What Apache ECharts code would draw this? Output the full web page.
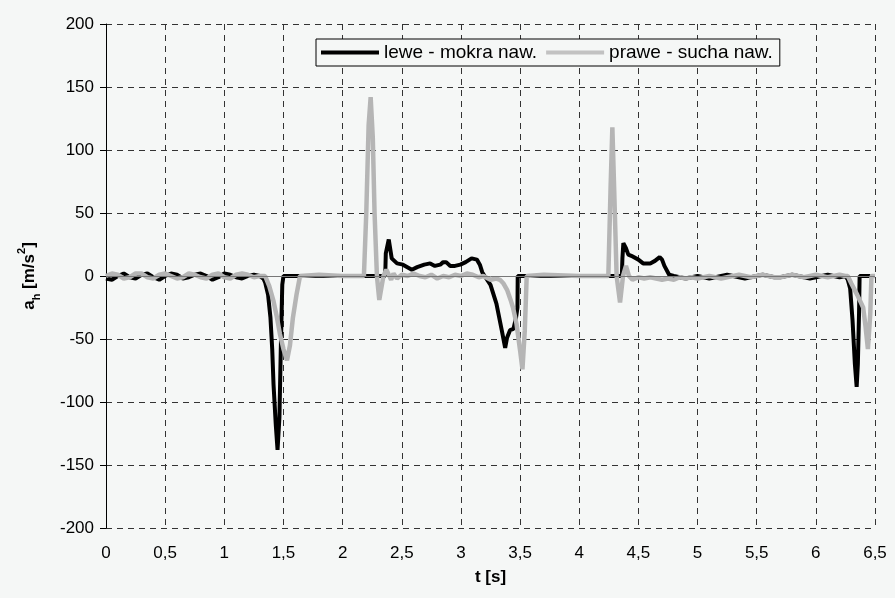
<!DOCTYPE html>
<html>
<head>
<meta charset="utf-8">
<script src="https://cdn.jsdelivr.net/npm/echarts@6/dist/echarts.min.js"></script>
<style>
  html, body { margin: 0; padding: 0; background: #f5f7f6; }
  #chart { width: 895px; height: 598px; }
</style>
</head>
<body>
<div id="chart"></div>
<script>
// [t (s), a_h (m/s2)]
const lewe = [
  [0,-2],[0.05,-3],[0.1,0],[0.15,2],[0.2,-1],[0.25,-2],[0.3,1],[0.35,2],[0.4,-1],[0.45,-3],[0.5,0],[0.55,2],[0.6,1],
  [0.65,-2],[0.7,-1],[0.75,1],[0.8,2],[0.85,0],[0.9,-3],[0.95,-1],[1.0,2],[1.05,1],[1.1,-1],[1.15,-2],[1.2,0],[1.25,1],[1.3,0],
  [1.33,-2],[1.345,-5],[1.37,-15],[1.39,-33],[1.405,-58],[1.416,-86],[1.435,-118],[1.45,-138],[1.466,-112],[1.477,-60],[1.49,-7],
  [1.5,0],[1.64,0],[2.0,0],[2.36,0],
  [2.365,18],[2.39,29],[2.415,14],[2.46,10],[2.51,9],[2.585,5],[2.63,7],[2.69,9],[2.74,10],[2.78,8],[2.825,9],[2.85,11],[2.875,11],
  [2.91,8],[2.95,8],[2.995,9],[3.04,11],[3.09,14],[3.135,13],[3.16,9],[3.18,3],[3.2,0],[3.25,-7],[3.3,-22],[3.345,-43],[3.374,-57],
  [3.39,-49],[3.415,-43],[3.444,-42],[3.466,-33],[3.478,-25],[3.48,0],[3.54,0],[4.0,0],[4.36,0],
  [4.365,14],[4.373,26],[4.395,22],[4.415,17],[4.44,16],[4.5,13],[4.54,10],[4.6,10],[4.64,12],[4.68,15],[4.7,13],[4.72,8],[4.76,1],[4.8,0],
  [4.85,-1],[4.9,-2],[4.95,-1],[5.0,0],[5.05,-1],[5.1,-2],[5.15,-1],[5.2,0],[5.25,1],[5.3,0],[5.35,-1],[5.4,-2],[5.45,-1],[5.5,0],
  [5.55,1],[5.6,0],[5.65,-1],[5.7,-1],[5.75,0],[5.8,1],[5.85,0],[5.9,-1],[5.95,-2],[6.0,-1],[6.05,0],[6.1,1],[6.15,0],[6.2,-1],[6.25,0],
  [6.27,-3],[6.29,-10],[6.31,-35],[6.33,-70],[6.345,-88],[6.355,-70],[6.365,-30],[6.37,0],[6.46,0]
];
const prawe = [
  [0,0],[0.05,2],[0.1,1],[0.15,-2],[0.2,-1],[0.25,2],[0.3,2],[0.35,-1],[0.4,-2],[0.45,1],[0.5,2],[0.55,0],[0.6,-2],
  [0.65,-1],[0.7,2],[0.75,1],[0.8,-1],[0.85,-2],[0.9,1],[0.95,2],[1.0,-1],[1.05,-2],[1.1,1],[1.15,2],[1.2,1],[1.25,-1],[1.3,0],
  [1.345,0],[1.38,-8],[1.416,-20],[1.445,-33],[1.47,-46],[1.5,-58],[1.53,-67],[1.555,-55],[1.58,-33],[1.61,-15],[1.64,0],[1.8,1],[2.0,0],[2.18,0],
  [2.2,50],[2.22,120],[2.237,142],[2.255,110],[2.27,50],[2.29,0],[2.31,-19],[2.33,-8],[2.345,0],[2.37,5],[2.39,1],[2.41,-3],[2.43,2],
  [2.46,-2],[2.5,1],[2.55,0],[2.6,2],[2.65,0],[2.7,-1],[2.75,1],[2.8,-2],[2.85,0],[2.9,-1],[2.95,1],[3.0,0],[3.05,2],[3.1,1],[3.15,-1],
  [3.19,0],[3.25,-3],[3.3,-2],[3.33,-3],[3.36,-6],[3.39,-11],[3.42,-19],[3.44,-25],[3.47,-38],[3.5,-59],[3.52,-74],[3.54,-43],[3.556,0],
  [3.7,1],[4.0,0],[4.246,0],
  [4.265,70],[4.28,118],[4.295,70],[4.316,0],[4.345,-21],[4.37,0],[4.395,8],[4.42,0],
  [4.45,-3],[4.5,-1],[4.55,-2],[4.6,-1],[4.65,-2],[4.7,-3],[4.75,-2],[4.8,-3],[4.85,-1],[4.9,-2],[4.95,-1],[5.0,-2],[5.05,-1],[5.1,0],
  [5.15,-1],[5.2,-2],[5.25,-1],[5.3,0],[5.35,1],[5.4,0],[5.45,-1],[5.5,0],[5.55,1],[5.6,0],[5.65,-1],[5.7,-1],[5.75,0],[5.8,1],[5.85,0],
  [5.9,-1],[5.95,0],[6.0,1],[6.05,0],[6.1,-1],[6.15,0],[6.2,1],[6.25,0],
  [6.27,0],[6.3,-6],[6.35,-15],[6.4,-25],[6.42,-40],[6.44,-58],[6.46,-30],[6.47,0],[6.5,0]
];

const seriesNames = ['lewe - mokra naw.', 'prawe - sucha naw.'];
const font = 'Liberation Sans, Arial, sans-serif';

const chart = echarts.init(document.getElementById('chart'));

const gridDash = { color: '#333', width: 1, type: [6, 5] };

chart.setOption({
  backgroundColor: '#f5f7f6',
  animation: false,
  grid: { left: 106, right: 20, top: 24, bottom: 70 },
  legend: {
    left: 316,
    top: 39,
    data: [
      { name: seriesNames[0], icon: 'rect', itemStyle: { color: '#000' } },
      { name: seriesNames[1], icon: 'rect', itemStyle: { color: '#c2c2c2' } }
    ],
    itemWidth: 58,
    itemHeight: 4,
    itemGap: 9,
    padding: [4, 7, 4, 5],
    borderColor: '#000',
    borderWidth: 1,
    backgroundColor: '#f5f7f6',
    textStyle: { fontSize: 19, color: '#000', fontFamily: font }
  },
  xAxis: {
    type: 'value',
    min: 0,
    max: 6.5,
    interval: 0.5,
    name: 't [s]',
    nameLocation: 'middle',
    nameGap: 41,
    nameTextStyle: { fontSize: 17, fontWeight: 'bold', color: '#000', fontFamily: font },
    axisLine: { show: false },
    axisTick: { show: false },
    axisLabel: {
      margin: 17,
      fontSize: 17,
      color: '#000',
      fontFamily: font,
      formatter: v => String(v).replace('.', ',')
    },
    splitLine: { show: true, lineStyle: gridDash }
  },
  yAxis: {
    type: 'value',
    min: -200,
    max: 200,
    interval: 50,
    name: '{b|a}{s|h}{b| [m/s}{p|2}{b|]}',
    nameLocation: 'middle',
    nameRotate: 90,
    nameGap: 64,
    nameTextStyle: {
      rich: {
        b: { fontSize: 17, fontWeight: 'bold', color: '#000', fontFamily: font, lineHeight: 26, verticalAlign: 'middle' },
        s: { fontSize: 11, fontWeight: 'bold', color: '#000', fontFamily: font, verticalAlign: 'bottom', lineHeight: 12 },
        p: { fontSize: 11, fontWeight: 'bold', color: '#000', fontFamily: font, verticalAlign: 'top', lineHeight: 12 }
      }
    },
    axisLine: { show: true, onZero: false, lineStyle: { color: '#000', width: 1 } },
    axisTick: { show: true, inside: false, length: 6, lineStyle: { color: '#000' } },
    axisLabel: { margin: 12, fontSize: 17, color: '#000', fontFamily: font },
    splitLine: { show: true, lineStyle: gridDash }
  },
  series: [
    {
      name: seriesNames[0],
      type: 'line',
      data: lewe,
      symbol: 'none',
      lineStyle: { color: '#000', width: 4 },
      itemStyle: { color: '#000' },
      markLine: {
        silent: true,
        symbol: 'none',
        label: { show: false },
        lineStyle: { color: '#777', width: 1, type: 'solid' },
        data: [{ yAxis: 0 }]
      }
    },
    {
      name: seriesNames[1],
      type: 'line',
      data: prawe,
      symbol: 'none',
      lineStyle: { color: '#b5b5b5', width: 4.5 },
      itemStyle: { color: '#b5b5b5' }
    }
  ]
});
</script>
</body>
</html>
